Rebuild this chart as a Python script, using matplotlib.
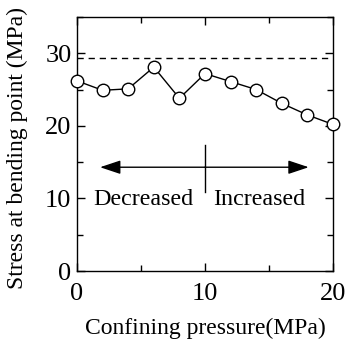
import matplotlib
matplotlib.use("Agg")
import matplotlib.pyplot as plt
from matplotlib.ticker import MultipleLocator

pressure = [0, 2, 4, 6, 8, 10, 12, 14, 16, 18, 20]
stress = [26.2, 24.9, 25.1, 28.1, 23.8, 27.2, 26.1, 25.0, 23.1, 21.5, 20.2]
reference_level = 29.3
arrow_y = 14.3
arrow_left, arrow_mid, arrow_right = 1.8, 10, 18.1
labels = ["Decreased", "Increased"]

plt.rcParams['font.family'] = ['Liberation Serif', 'DejaVu Serif']
plt.rcParams['mathtext.fontset'] = 'stix'

fig = plt.figure(figsize=(3.48, 3.43), dpi=100)
ax = fig.add_axes([77/348, 1-271/343, 256/348, 254/343])

ax.plot(pressure, stress, '-o', color='black', lw=1.0, ms=9,
        mfc='white', mec='black', mew=1.0, zorder=3, clip_on=False)
ax.axhline(reference_level, color='black', lw=1.0, ls=(0, (4.5, 3.5)))

ax.annotate('', xy=(arrow_left, arrow_y), xytext=(arrow_mid, arrow_y),
            arrowprops=dict(arrowstyle='-|>,head_length=0.9,head_width=0.3',
                            color='black', lw=1.0,
                            mutation_scale=14, shrinkA=0, shrinkB=0))
ax.annotate('', xy=(arrow_right, arrow_y), xytext=(arrow_mid, arrow_y),
            arrowprops=dict(arrowstyle='-|>,head_length=0.9,head_width=0.3',
                            color='black', lw=1.0,
                            mutation_scale=14, shrinkA=0, shrinkB=0))
ax.plot([arrow_mid, arrow_mid], [10.9, 17.4], color='black', lw=1.0)

ax.text(5.15, 9.8, labels[0], ha='center', va='center', fontsize=17.3)
ax.text(14.2, 9.8, labels[1], ha='center', va='center', fontsize=17.3)

ax.set_xlim(0, 20)
ax.set_ylim(0, 35)
ax.xaxis.set_major_locator(MultipleLocator(10))
ax.xaxis.set_minor_locator(MultipleLocator(5))
ax.yaxis.set_major_locator(MultipleLocator(10))
ax.yaxis.set_minor_locator(MultipleLocator(5))
ax.tick_params(which='both', direction='in', top=True, right=True,
               labelsize=19, width=1.0)
ax.tick_params(axis='x', which='both', pad=9)
ax.tick_params(axis='y', which='both', pad=4)
ax.tick_params(which='major', length=6)
ax.tick_params(which='minor', length=4)
for s in ax.spines.values():
    s.set_linewidth(1.0)

ax.set_xlabel('Confining pressure(MPa)', fontsize=17, labelpad=9)
ax.set_ylabel('Stress at bending point (MPa)', fontsize=17)
ax.yaxis.set_label_coords(-0.19, 0.484)

fig.savefig('out.png', dpi=100)
